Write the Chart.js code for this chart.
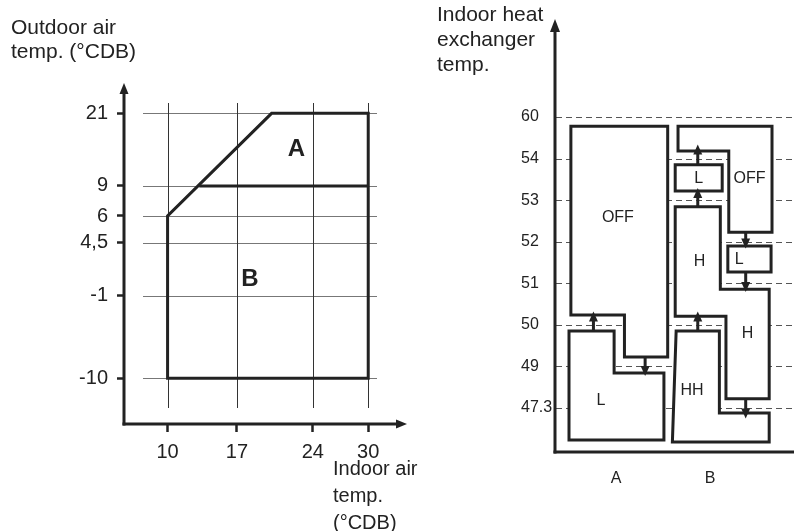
<!DOCTYPE html>
<html>
<head>
<meta charset="utf-8">
<script src="https://cdn.jsdelivr.net/npm/chart.js@4.4.1/dist/chart.umd.min.js"></script>
<style>
html,body{margin:0;padding:0;background:#fff;}
#wrap{position:relative;width:794px;height:531px;overflow:hidden;background:#fff;}
#wrap canvas{position:absolute;left:0;top:0;}
</style>
</head>
<body>
<div id="wrap">
  <canvas id="envChart" width="794" height="531"></canvas>
  <canvas id="hxChart" width="794" height="531"></canvas>
</div>
<script>
// ---------------- LEFT CHART DATA ----------------
const outdoorTicks = [-10, -1, 4.5, 6, 9, 21];
const outdoorLabels = ['-10', '-1', '4,5', '6', '9', '21'];
const indoorTicks = [10, 17, 24, 30];
const indoorLabels = ['10', '17', '24', '30'];
const envelopeIndoor = [10, 10, 20.2, 30, 30, 10];
const envelopeOutdoor = [-10, 6, 21, 21, -10, -10];
const boundaryIndoor = [13.2, 30];
const boundaryOutdoor = [9, 9];
const zoneNames = ['A', 'B'];
const zoneIndoor = [22.5, 18.2];
const zoneOutdoor = [15, 0.7];

// ---------------- RIGHT CHART DATA ----------------
const hxLevels = ['47.3', '49', '50', '51', '52', '53', '54', '60'];
const modeGroups = ['A', 'B'];
// region outlines: [group position, level position]
const offA      = [[0.52,6.78],[1.55,6.78],[1.55,1.23],[1.09,1.23],[1.09,2.24],[0.52,2.24]];
const lowA      = [[0.50,1.85],[0.98,1.85],[0.98,0.84],[1.51,0.84],[1.51,-0.77],[0.50,-0.77]];
const offB      = [[1.66,6.78],[2.66,6.78],[2.66,4.23],[2.20,4.23],[2.20,6.18],[1.66,6.18]];
const lowB1     = [[1.63,5.85],[2.13,5.85],[2.13,5.22],[1.63,5.22]];
const highB     = [[1.63,4.84],[2.11,4.84],[2.11,2.86],[2.63,2.86],[2.63,0.22],[2.17,0.22],[2.17,2.21],[1.63,2.21]];
const lowB2     = [[2.19,3.90],[2.65,3.90],[2.65,3.27],[2.19,3.27]];
const highHighB = [[1.64,1.85],[2.10,1.85],[2.10,-0.12],[2.63,-0.12],[2.63,-0.82],[1.60,-0.82]];
// transition arrows
const arrowX    = [0.76, 1.31, 1.87, 1.87, 2.38, 2.38, 1.87, 2.38];
const arrowFrom = [1.85, 1.23, 5.85, 4.84, 4.23, 3.27, 1.85, 0.22];
const arrowTo   = [2.32, 0.77, 6.34, 5.29, 3.84, 2.79, 2.32, -0.25];
// state labels
const stateText = ['OFF', 'L', 'OFF', 'L', 'H', 'L', 'H', 'HH'];
const stateX    = [1.02, 0.84, 2.42, 1.88, 1.89, 2.31, 2.40, 1.81];
const stateY    = [4.58, 0.19, 5.53, 5.53, 3.52, 3.56, 1.80, 0.42];

// ---------------- LAYOUT / STYLE ----------------
const FONT = "'Liberation Sans', Arial, Helvetica, sans-serif";
const INK = '#222';
// schematic (non-uniform) axis spacing of the left chart: fraction of axis length per tick
const outdoorTickPos = [0.134, 0.376, 0.532, 0.610, 0.698, 0.911];
const indoorTickPos = [0.154, 0.399, 0.667, 0.863];

function pwMap(vals, pos) {
  return function (v) {
    let i = 0;
    while (i < vals.length - 2 && v > vals[i + 1]) i++;
    const t = (v - vals[i]) / (vals[i + 1] - vals[i]);
    return pos[i] + t * (pos[i + 1] - pos[i]);
  };
}
const mapIndoor = pwMap(indoorTicks, indoorTickPos);
const mapOutdoor = pwMap(outdoorTicks, outdoorTickPos);
const envPts = (xs, ys) => xs.map((x, i) => ({ x: mapIndoor(x), y: mapOutdoor(ys[i]) }));

function arrowHead(ctx, x1, y1, x2, y2, len, w) {
  const a = Math.atan2(y2 - y1, x2 - x1);
  const bx = x2 - Math.cos(a) * len, by = y2 - Math.sin(a) * len;
  const nx = -Math.sin(a) * w / 2, ny = Math.cos(a) * w / 2;
  ctx.beginPath();
  ctx.moveTo(x2, y2);
  ctx.lineTo(bx + nx, by + ny);
  ctx.lineTo(bx - nx, by - ny);
  ctx.closePath();
  ctx.fill();
}
function arrow(ctx, x1, y1, x2, y2, lw, len, w) {
  const a = Math.atan2(y2 - y1, x2 - x1);
  ctx.save();
  ctx.strokeStyle = INK; ctx.fillStyle = INK; ctx.lineWidth = lw; ctx.lineCap = 'butt';
  ctx.beginPath();
  ctx.moveTo(x1, y1);
  ctx.lineTo(x2 - Math.cos(a) * len * 0.7, y2 - Math.sin(a) * len * 0.7);
  ctx.stroke();
  arrowHead(ctx, x1, y1, x2, y2, len, w);
  ctx.restore();
}
function textLines(ctx, lines, x, y0, step, font) {
  ctx.save();
  ctx.font = font; ctx.fillStyle = INK; ctx.textAlign = 'left'; ctx.textBaseline = 'middle';
  lines.forEach((l, i) => ctx.fillText(l, x, y0 + i * step));
  ctx.restore();
}

// ---------------- LEFT CHART ----------------
const envDecor = {
  id: 'envDecor',
  beforeDatasetsDraw(chart) {
    const { ctx, chartArea: ca, scales: { x, y } } = chart;
    ctx.save();
    ctx.lineWidth = 1;
    ctx.strokeStyle = '#777';
    outdoorTicks.forEach(v => {
      const py = Math.round(y.getPixelForValue(mapOutdoor(v))) + 0.5;
      ctx.beginPath(); ctx.moveTo(ca.left + 19, py); ctx.lineTo(ca.right - 30, py); ctx.stroke();
    });
    ctx.strokeStyle = '#333';
    indoorTicks.forEach(v => {
      const px = Math.round(x.getPixelForValue(mapIndoor(v))) + 0.5;
      ctx.beginPath(); ctx.moveTo(px, ca.top + 20); ctx.lineTo(px, ca.bottom - 16); ctx.stroke();
    });
    ctx.restore();
  },
  afterDatasetsDraw(chart) {
    const { ctx, chartArea: ca, scales: { x, y } } = chart;
    // axes with arrows
    arrow(ctx, ca.left, ca.bottom + 1.5, ca.left, ca.top, 3, 11, 9);
    arrow(ctx, ca.left - 1.5, ca.bottom, ca.right, ca.bottom, 3, 11, 9);
    // zone labels
    ctx.save();
    ctx.font = 'bold 24px ' + FONT; ctx.fillStyle = INK; ctx.textAlign = 'center'; ctx.textBaseline = 'middle';
    zoneNames.forEach((n, i) => ctx.fillText(n, x.getPixelForValue(mapIndoor(zoneIndoor[i])), y.getPixelForValue(mapOutdoor(zoneOutdoor[i]))));
    ctx.restore();
    // axis titles
    textLines(ctx, ['Outdoor air', 'temp. (°CDB)'], 11, 28, 24, '21px ' + FONT);
    textLines(ctx, ['Indoor air', 'temp.', '(°CDB)'], 333, 469, 27, '20px ' + FONT);
  }
};

new Chart(document.getElementById('envChart'), {
  type: 'scatter',
  data: {
    datasets: [
      { data: envPts(envelopeIndoor, envelopeOutdoor), showLine: true, borderColor: INK, borderWidth: 3,
        pointRadius: 0, fill: false, borderJoinStyle: 'miter', borderCapStyle: 'square' },
      { data: envPts(boundaryIndoor, boundaryOutdoor), showLine: true, borderColor: INK, borderWidth: 3,
        pointRadius: 0, fill: false }
    ]
  },
  options: {
    responsive: false, animation: false, events: [],
    layout: { padding: { left: 0, top: 83, right: 794 - 407, bottom: 0 } },
    plugins: { legend: { display: false }, tooltip: { enabled: false } },
    scales: {
      x: {
        type: 'linear', min: 0, max: 1,
        afterFit: s => { s.height = 531 - 424; },
        afterBuildTicks: s => { s.ticks = indoorTickPos.map(v => ({ value: v })); },
        ticks: { autoSkip: false, maxRotation: 0, padding: 8, color: INK, font: { family: FONT, size: 20 },
                 callback: (v, i) => indoorLabels[i] },
        grid: { drawOnChartArea: false, drawTicks: true, tickLength: 8, tickWidth: 2.5, tickColor: INK },
        border: { display: false }
      },
      y: {
        type: 'linear', min: 0, max: 1,
        afterFit: s => { s.width = 124; },
        afterBuildTicks: s => { s.ticks = outdoorTickPos.map(v => ({ value: v })); },
        ticks: { autoSkip: false, padding: 9, color: INK, font: { family: FONT, size: 20 },
                 callback: (v, i) => outdoorLabels[i] },
        grid: { drawOnChartArea: false, drawTicks: true, tickLength: 7, tickWidth: 2.5, tickColor: INK },
        border: { display: false }
      }
    }
  },
  plugins: [envDecor]
});

// ---------------- RIGHT CHART ----------------
const regionDs = pts => ({
  data: pts.concat([pts[0]]).map(p => ({ x: p[0], y: p[1] })),
  showLine: true, borderColor: INK, borderWidth: 3, pointRadius: 0,
  fill: 'shape', backgroundColor: '#fff', borderJoinStyle: 'miter', borderCapStyle: 'square'
});

const hxDecor = {
  id: 'hxDecor',
  beforeDatasetsDraw(chart) {
    const { ctx, chartArea: ca, scales: { y } } = chart;
    ctx.save();
    ctx.strokeStyle = '#555'; ctx.lineWidth = 1; ctx.setLineDash([6, 4]);
    hxLevels.forEach((l, i) => {
      const py = Math.round(y.getPixelForValue(i)) + 0.5;
      ctx.beginPath(); ctx.moveTo(ca.left + 1, py); ctx.lineTo(ca.right, py); ctx.stroke();
    });
    ctx.restore();
  },
  afterDatasetsDraw(chart) {
    const { ctx, chartArea: ca, scales: { x, y } } = chart;
    arrowX.forEach((ax, i) => {
      arrow(ctx, x.getPixelForValue(ax), y.getPixelForValue(arrowFrom[i]),
            x.getPixelForValue(ax), y.getPixelForValue(arrowTo[i]), 3, 10, 9);
    });
    ctx.save();
    ctx.font = '16px ' + FONT; ctx.fillStyle = INK; ctx.textAlign = 'center'; ctx.textBaseline = 'middle';
    stateText.forEach((t, i) => ctx.fillText(t, x.getPixelForValue(stateX[i]), y.getPixelForValue(stateY[i])));
    ctx.restore();
    // axes
    arrow(ctx, ca.left, ca.bottom + 1.5, ca.left, ca.top, 3, 13, 10);
    ctx.save();
    ctx.strokeStyle = INK; ctx.lineWidth = 3;
    ctx.beginPath(); ctx.moveTo(ca.left - 1.5, ca.bottom); ctx.lineTo(ca.right, ca.bottom); ctx.stroke();
    ctx.restore();
    textLines(ctx, ['Indoor heat', 'exchanger', 'temp.'], 437, 15, 25, '21px ' + FONT);
  }
};

new Chart(document.getElementById('hxChart'), {
  type: 'scatter',
  data: {
    datasets: [offA, lowA, offB, lowB1, highB, lowB2, highHighB].map(regionDs)
  },
  options: {
    responsive: false, animation: false, events: [],
    layout: { padding: { left: 521, top: 19, right: 0, bottom: 0 } },
    plugins: { legend: { display: false }, tooltip: { enabled: false } },
    scales: {
      x: {
        type: 'linear', min: 0.351, max: 2.894,
        afterFit: s => { s.height = 531 - 452; },
        afterBuildTicks: s => { s.ticks = modeGroups.map((g, i) => ({ value: i + 1 })); },
        ticks: { autoSkip: false, maxRotation: 0, padding: 17, color: INK, font: { family: FONT, size: 16 },
                 callback: (v, i) => modeGroups[i] },
        grid: { display: false, drawTicks: false },
        border: { display: false }
      },
      y: {
        type: 'linear', min: -1.058, max: 9.358,
        afterFit: s => { s.width = 555 - 521; },
        afterBuildTicks: s => { s.ticks = hxLevels.map((l, i) => ({ value: i })); },
        ticks: { autoSkip: false, crossAlign: 'far', padding: 0, color: INK, font: { family: FONT, size: 16 },
                 callback: (v, i) => hxLevels[i] },
        grid: { display: false, drawTicks: false },
        border: { display: false }
      }
    }
  },
  plugins: [hxDecor]
});
</script>
</body>
</html>
